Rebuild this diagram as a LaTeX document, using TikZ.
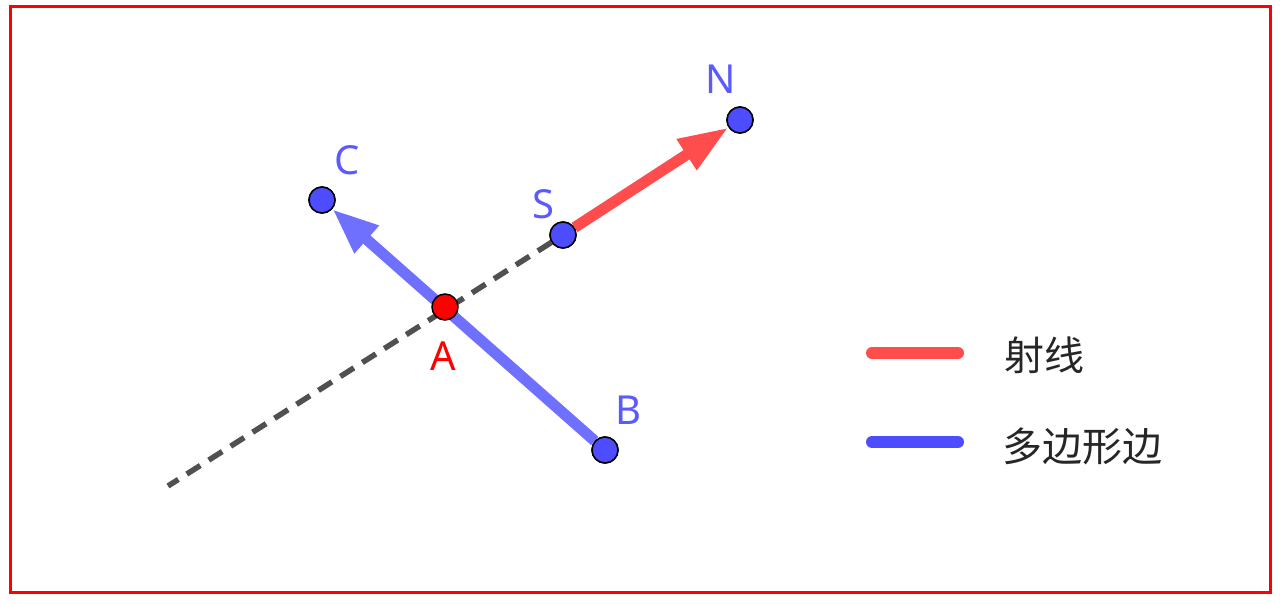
\documentclass[tikz,border=0pt]{standalone}
\usepackage{fontspec}
\setmainfont{Noto Sans}
\newfontfamily\cjk{Noto Sans CJK SC}
\usetikzlibrary{arrows.meta}
\definecolor{ptblue}{RGB}{77,77,255}
\definecolor{lblblue}{RGB}{90,90,255}
\definecolor{segblue}{RGB}{112,112,255}
\definecolor{rayred}{RGB}{255,77,77}
\definecolor{dashgray}{RGB}{80,80,80}
\begin{document}
\begin{tikzpicture}[x=1pt,y=-1pt,
  pt/.style={circle,draw=black,line width=1.5pt,fill=ptblue,minimum size=26pt,inner sep=0pt},
  lbl/.style={text=lblblue,font=\fontsize{40}{40}\selectfont,inner sep=0pt},
  leg/.style={text=black!85,font=\cjk\fontsize{40}{40}\selectfont,anchor=west,inner sep=0pt}]
\useasboundingbox (0,0) rectangle (1280,603);
\draw[red,line width=3pt] (10,6.5) rectangle (1270,592);
\coordinate (E) at (168,486);
\node[pt] (S) at (563,235) {};
\node[pt] (C) at (322,200) {};
\node[pt] (B) at (605,450) {};
\node[pt] (N) at (740,120) {};
\draw[dashgray,line width=5.5pt,dash pattern=on 16pt off 10pt] (S) -- (E);
\draw[segblue,line width=11pt,-{Triangle[length=46pt,width=34pt]}] (B) -- (C);
\draw[rayred,line width=11pt,-{Triangle[length=50pt,width=34pt]}] (S) -- (N);
\node[pt,fill=red] (A) at (445,307) {};
\node[pt] at (S) {};
\node[pt] at (C) {};
\node[pt] at (B) {};
\node[pt] at (N) {};
\node[lbl] (lN) at (721,79) {N};
\node[lbl] (lC) at (347,160) {C};
\node[lbl] (lS) at (543,204) {S};
\node[lbl,text=red] (lA) at (443,356) {A};
\node[lbl] (lB) at (628,410) {B};
\coordinate (r1) at (872,353);
\coordinate (r2) at (958,353);
\coordinate (b1) at (872,442);
\coordinate (b2) at (958,442);
\draw[rayred,line width=12pt,line cap=round] (r1) -- (r2);
\draw[ptblue,line width=12pt,line cap=round] (b1) -- (b2);
\node[leg] (t1) at (1004,355) {射线};
\node[leg] (t2) at (1002,446) {多边形边};
\end{tikzpicture}
\end{document}
